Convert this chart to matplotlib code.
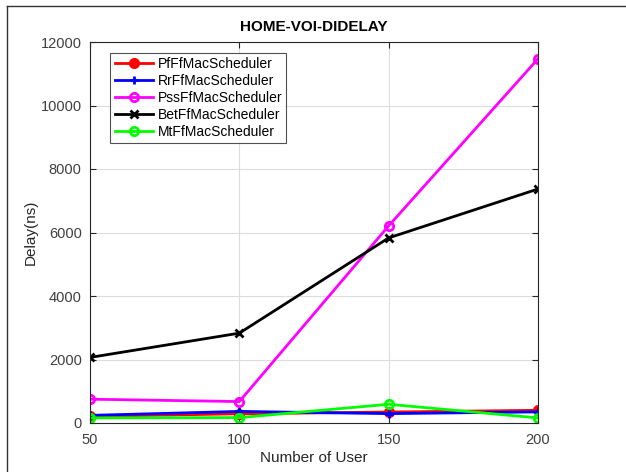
import matplotlib
matplotlib.use("Agg")
import matplotlib.pyplot as plt
from matplotlib.lines import Line2D

plt.rcParams["font.family"] = ["Liberation Sans", "DejaVu Sans"]

users = [50, 100, 150, 200]
pf_delay = [210, 290, 345, 400]
rr_delay = [240, 365, 295, 350]
pss_delay = [750, 675, 6210, 11470]
bet_delay = [2065, 2830, 5830, 7370]
mt_delay = [160, 170, 590, 160]

series = [
    ("PfFfMacScheduler", pf_delay, "#ff0000", "o", "#ff0000"),
    ("RrFfMacScheduler", rr_delay, "#0000ff", "+", "#0000ff"),
    ("PssFfMacScheduler", pss_delay, "#ff00ff", "o", "none"),
    ("BetFfMacScheduler", bet_delay, "#000000", "x", "#000000"),
    ("MtFfMacScheduler", mt_delay, "#00ff00", "o", "none"),
]

fig = plt.figure(figsize=(6.26, 4.72), dpi=100)
ax = fig.add_axes([90 / 626, 49 / 472, 448 / 626, 381 / 472])

for name, vals, col, mk, fc in series:
    ax.plot(users, vals, color=col, marker=mk, markerfacecolor=fc,
            markeredgecolor=col, markersize=6, markeredgewidth=2,
            linewidth=2, label=name)

ax.set_xlim(50, 200)
ax.set_ylim(0, 12000)
ax.set_xticks(users)
ax.set_yticks(range(0, 12001, 2000))
ax.grid(True, color="#dddddd", linewidth=0.8)
ax.set_axisbelow(True)
ax.tick_params(direction="in", length=4, colors="#262626", labelsize=10.5,
               labelcolor="#404040", top=True, right=True)
ax.tick_params(axis="x", pad=7)
ax.tick_params(axis="y", pad=6)
for side in ax.spines.values():
    side.set_color("#262626")
    side.set_linewidth(0.8)

ax.set_title("HOME-VOI-DIDELAY", fontsize=11, fontweight="bold", pad=8)
ax.set_xlabel("Number of User", fontsize=11, color="#262626", labelpad=3)
ax.set_ylabel("Delay(ns)", fontsize=11, color="#262626", labelpad=2)

leg = ax.legend(loc="upper left", bbox_to_anchor=(0.03, 0.99), fontsize=10,
                frameon=True, fancybox=False, handlelength=2.8,
                borderpad=0.3, labelspacing=0.22, handletextpad=0.3)
leg.get_frame().set_edgecolor("#262626")
leg.get_frame().set_linewidth(0.8)

# screenshot frame lines
fig.add_artist(Line2D([7 / 626, 7 / 626], [0, 1 - 6 / 472], transform=fig.transFigure,
                      color="#333333", linewidth=1))
fig.add_artist(Line2D([7 / 626, 1], [1 - 6 / 472, 1 - 6 / 472], transform=fig.transFigure,
                      color="#333333", linewidth=1))

fig.savefig("out.png", dpi=100)
